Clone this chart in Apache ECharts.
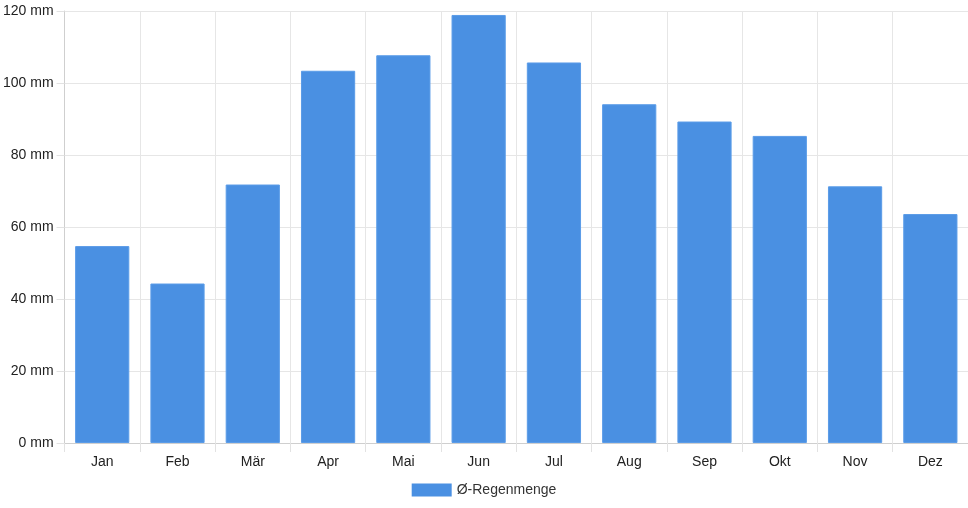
<!DOCTYPE html>
<html>
<head>
<meta charset="utf-8">
<script src="https://cdn.jsdelivr.net/npm/echarts@6/dist/echarts.min.js"></script>
<style>
  html, body { margin: 0; padding: 0; background: #fff; }
  #chart { width: 968px; height: 508px; }
</style>
</head>
<body>
<div id="chart"></div>
<script>
// Monatsnamen und mittlere Regenmenge (mm)
const months = ['Jan', 'Feb', 'Mär', 'Apr', 'Mai', 'Jun', 'Jul', 'Aug', 'Sep', 'Okt', 'Nov', 'Dez']
const rainfall = [54.7, 44.3, 71.8, 103.4, 107.7, 118.9, 105.7, 94.1, 89.3, 85.3, 71.3, 63.6]
const seriesName = 'Ø-Regenmenge'

const chart = echarts.init(document.getElementById('chart'))

const font = 'Liberation Sans, Arial, Helvetica, sans-serif'

chart.setOption({
  animation: false,
  textStyle: { fontFamily: font },
  grid: {
    left: 64,
    right: 0,
    top: 11,
    bottom: 65
  },
  legend: {
    data: [seriesName],
    bottom: 6,
    left: 'center',
    itemWidth: 40,
    itemHeight: 13,
    itemGap: 10,
    icon: 'rect',
    itemStyle: { borderWidth: 0 },
    textStyle: { color: '#333', fontSize: 14, fontFamily: font }
  },
  xAxis: {
    type: 'category',
    data: months,
    axisLine: { lineStyle: { color: '#cfcfcf' } },
    axisTick: { show: true, length: 9, lineStyle: { color: '#e2e2e2' } },
    axisLabel: { color: '#222', fontSize: 14, margin: 12, fontFamily: font },
    splitLine: { show: true, lineStyle: { color: '#e6e6e6' } }
  },
  yAxis: {
    type: 'value',
    min: 0,
    max: 120,
    interval: 20,
    axisLine: { show: true, lineStyle: { color: '#cfcfcf' } },
    axisTick: { show: true, length: 8, lineStyle: { color: '#e2e2e2' } },
    axisLabel: { color: '#222', fontSize: 14, margin: 11, formatter: '{value} mm', fontFamily: font },
    splitLine: { show: true, lineStyle: { color: '#e6e6e6' } }
  },
  series: [
    {
      name: seriesName,
      type: 'bar',
      data: rainfall,
      barCategoryGap: '28%',
      itemStyle: {
        color: '#4a90e2',
        borderColor: '#5b9ce8',
        borderWidth: 1
      }
    }
  ]
})
</script>
</body>
</html>
